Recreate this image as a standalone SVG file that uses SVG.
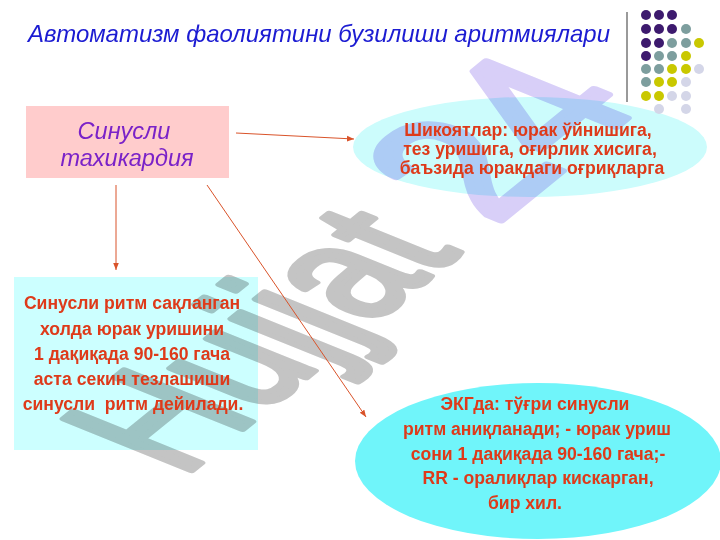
<svg xmlns="http://www.w3.org/2000/svg" width="720" height="540" viewBox="0 0 720 540">
<style>
.title{font-family:"Liberation Sans",Arial,sans-serif;font-style:italic;font-size:24px;fill:#1c1cd2}
.pk{font-family:"Liberation Sans",Arial,sans-serif;font-style:italic;font-size:23.5px;fill:#7a22c8;text-anchor:middle}
.rt{font-family:"Liberation Sans",Arial,sans-serif;font-weight:bold;font-size:17.6px;fill:#de3a1a;text-anchor:middle;white-space:pre}
.con{stroke:#d9532a;stroke-width:1;fill:none}
.wm{font-family:"Liberation Sans",Arial,sans-serif;font-weight:normal;font-size:150px;mix-blend-mode:multiply;stroke-width:6;stroke-linejoin:round}
</style>
<defs>
<marker id="ah" viewBox="0 0 10 10" refX="10" refY="5" markerWidth="7" markerHeight="7" orient="auto" markerUnits="userSpaceOnUse">
<path d="M0,1 L10,5 L0,9 z" fill="#d9532a"/>
</marker>
</defs>
<rect width="720" height="540" fill="#ffffff"/>
<g id="shapes">
<rect id="box-sinus" x="26" y="106" width="203" height="72" fill="#ffcccc"/>
<ellipse id="ell-complaints" cx="530" cy="147" rx="177" ry="50" fill="#ccfcfc"/>
<rect id="box-def" x="14" y="277" width="244" height="173" fill="#ccffff"/>
<ellipse id="ell-ecg" cx="538" cy="461" rx="183" ry="78" fill="#70f5fa"/>
</g>
<g id="watermark">
<text class="wm" fill="#c4c4c4" stroke="#c4c4c4" transform="matrix(0.73 -0.591 1.233 0.498 182 478)">Hujjat</text>
<text class="wm" fill="#d8cff8" stroke="#d8cff8" transform="matrix(0.9 -0.73 1.36 0.55 494 226)">24</text>
</g>
<g id="decor">
<line x1="627" y1="12" x2="627" y2="102" stroke="#9a9a9a" stroke-width="2"/>
<g fill="#3d1a6e">
<circle cx="646" cy="15" r="5"/><circle cx="659" cy="15" r="5"/><circle cx="672" cy="15" r="5"/>
<circle cx="646" cy="29" r="5"/><circle cx="659" cy="29" r="5"/><circle cx="672" cy="29" r="5"/>
<circle cx="646" cy="43" r="5"/><circle cx="659" cy="43" r="5"/>
<circle cx="646" cy="56" r="5"/>
</g>
<g fill="#7d9e9e">
<circle cx="686" cy="29" r="5"/>
<circle cx="672" cy="43" r="5"/><circle cx="686" cy="43" r="5"/>
<circle cx="659" cy="56" r="5"/><circle cx="672" cy="56" r="5"/>
<circle cx="646" cy="69" r="5"/><circle cx="659" cy="69" r="5"/>
<circle cx="646" cy="82" r="5"/>
</g>
<g fill="#c9c800">
<circle cx="699" cy="43" r="5"/>
<circle cx="686" cy="56" r="5"/>
<circle cx="672" cy="69" r="5"/><circle cx="686" cy="69" r="5"/>
<circle cx="659" cy="82" r="5"/><circle cx="672" cy="82" r="5"/>
<circle cx="646" cy="96" r="5"/><circle cx="659" cy="96" r="5"/>
</g>
<g fill="#d4d6e8">
<circle cx="699" cy="69" r="5"/>
<circle cx="686" cy="82" r="5"/>
<circle cx="672" cy="96" r="5"/><circle cx="686" cy="96" r="5"/>
<circle cx="659" cy="109" r="5"/><circle cx="686" cy="109" r="5"/>
</g>
</g>
<g id="connectors">
<line class="con" x1="236" y1="133" x2="354" y2="139" marker-end="url(#ah)"/>
<line class="con" x1="116" y1="185" x2="116" y2="270" marker-end="url(#ah)"/>
<line class="con" x1="207" y1="185" x2="366" y2="417" marker-end="url(#ah)"/>
</g>
<text class="title" x="28" y="42" textLength="582" lengthAdjust="spacingAndGlyphs">Автоматизм фаолиятини бузилиши аритмиялари</text>
<g id="node-sinus">
<text class="pk" x="124" y="139">Синусли</text>
<text class="pk" x="127" y="166">тахикардия</text>
</g>
<g id="node-complaints">
<text class="rt" x="528" y="136">Шикоятлар: юрак ўйнишига,</text>
<text class="rt" x="530" y="155">тез уришига, оғирлик хисига,</text>
<text class="rt" x="532" y="174">баъзида юракдаги оғриқларга</text>
</g>
<g id="node-def">
<text class="rt" x="132" y="309">Синусли ритм сақланган</text>
<text class="rt" x="132" y="335">холда юрак уришини</text>
<text class="rt" x="132" y="360">1 дақиқада 90-160 гача</text>
<text class="rt" x="132" y="385">аста секин тезлашиши</text>
<text class="rt" x="133" y="410">синусли  ритм дейилади.</text>
</g>
<g id="node-ecg">
<text class="rt" x="535" y="410">ЭКГда: тўғри синусли</text>
<text class="rt" x="537" y="435">ритм аниқланади; - юрак уриш</text>
<text class="rt" x="538" y="460">сони 1 дақиқада 90-160 гача;-</text>
<text class="rt" x="538" y="484">RR - оралиқлар кискарган,</text>
<text class="rt" x="525" y="509">бир хил.</text>
</g>
</svg>
